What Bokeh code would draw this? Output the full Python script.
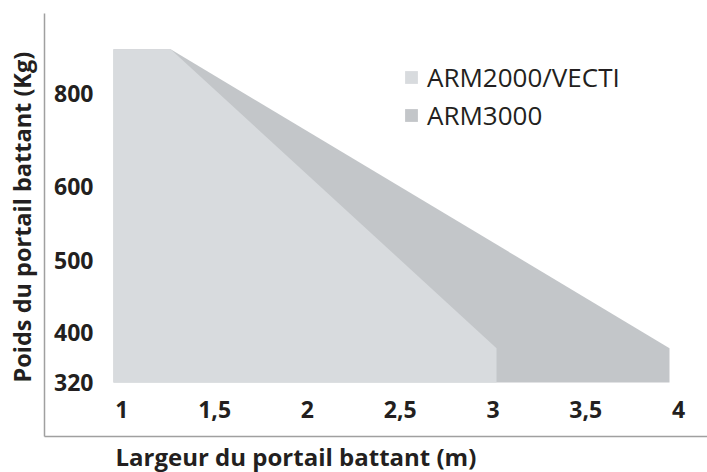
import numpy as np
from bokeh.plotting import figure
from bokeh.models import Range1d, FixedTicker, Label, Legend, LegendItem
from bokeh.embed import file_html
from bokeh.resources import INLINE

# ---------------- data ----------------
# gate width (m) / gate weight (kg) outlines of the two usage areas
arm2000_width = [0.955, 0.955, 1.263, 3.019, 3.019]
arm2000_weight = [320, 895, 895, 375, 320]
arm3000_width = [0.955, 0.955, 1.263, 3.951, 3.951]
arm3000_weight = [320, 895, 895, 375, 320]

series_names = ["ARM2000/VECTI", "ARM3000"]

x_ticks = [1, 1.5, 2, 2.5, 3, 3.5, 4]
x_tick_labels = ["1", "1,5", "2", "2,5", "3", "3,5", "4"]
y_ticks = [320, 400, 500, 600, 800]
y_tick_labels = ["320", "400", "500", "600", "800"]

# ---------------- layout of the (non linear) weight axis ----------------
y_tick_axis = [0, 50, 122, 196, 289]   # axis units of each weight tick


def warp(values):
    v = np.asarray(values, dtype=float)
    out = np.interp(v, y_ticks, y_tick_axis)
    lo = (y_tick_axis[1] - y_tick_axis[0]) / (y_ticks[1] - y_ticks[0])
    hi = (y_tick_axis[-1] - y_tick_axis[-2]) / (y_ticks[-1] - y_ticks[-2])
    out = np.where(v < y_ticks[0], y_tick_axis[0] + (v - y_ticks[0]) * lo, out)
    out = np.where(v > y_ticks[-1], y_tick_axis[-1] + (v - y_ticks[-1]) * hi, out)
    return out


LIGHT = "#d8dbde"
DARK = "#c3c6c9"
TEXT = "#231f20"
AXIS = "#a0a0a0"
FONT = "Open Sans"

X0, X1 = 0.3464, 4.1557          # visible x extent
Y0, Y1 = -90, 382                # visible y extent (axis units)
X_AXIS_AT = -54                  # where the bottom axis line sits
Y_AXIS_AT = 0.5835               # where the left axis line sits
Y_AXIS_TOP = 369

p = figure(width=707, height=472, output_backend="svg", toolbar_location=None,
           x_range=Range1d(X0, X1), y_range=Range1d(Y0, Y1),
           min_border_left=0, min_border_right=0, min_border_top=0,
           min_border_bottom=0)
p.grid.visible = False
p.outline_line_color = None
p.background_fill_color = "white"
p.border_fill_color = "white"

r3 = p.patch(arm3000_width, warp(arm3000_weight), fill_color=DARK, line_color=None)
r2 = p.patch(arm2000_width, warp(arm2000_weight), fill_color=LIGHT, line_color=None)

legend = Legend(items=[LegendItem(label=series_names[0], renderers=[r2]),
                       LegendItem(label=series_names[1], renderers=[r3])],
                location=(403, 339))
legend.border_line_color = None
legend.background_fill_alpha = 0
legend.padding = 0
legend.margin = 0
legend.spacing = 2
legend.glyph_width = 16
legend.glyph_height = 16
legend.label_standoff = 8
legend.label_text_font = FONT
legend.label_text_font_size = "26px"
legend.label_text_color = TEXT
p.add_layout(legend)

# x axis
xa = p.xaxis[0]
xa.fixed_location = X_AXIS_AT
xa.bounds = (Y_AXIS_AT, X1)
xa.ticker = FixedTicker(ticks=x_ticks)
xa.major_label_overrides = {float(t): l for t, l in zip(x_ticks, x_tick_labels)}
xa.major_label_standoff = -36
xa.major_tick_out = 0
xa.major_tick_in = 0
xa.minor_tick_out = 0
xa.minor_tick_in = 0
xa.major_label_text_font = FONT
xa.major_label_text_font_style = "bold"
xa.major_label_text_font_size = "23px"
xa.major_label_text_color = TEXT
xa.axis_line_color = AXIS
xa.axis_line_width = 1.5

# y axis
ya = p.yaxis[0]
ya.fixed_location = Y_AXIS_AT
ya.bounds = (X_AXIS_AT, Y_AXIS_TOP)
y_pos = [float(v) for v in warp(y_ticks)]
ya.ticker = FixedTicker(ticks=y_pos)
ya.major_label_overrides = {v: l for v, l in zip(y_pos, y_tick_labels)}
ya.major_label_standoff = -49
ya.major_tick_out = 0
ya.major_tick_in = 0
ya.minor_tick_out = 0
ya.minor_tick_in = 0
ya.major_label_text_font = FONT
ya.major_label_text_font_style = "bold"
ya.major_label_text_font_size = "23px"
ya.major_label_text_color = TEXT
ya.axis_line_color = AXIS
ya.axis_line_width = 1.5

# axis titles
x_title = Label(x=115, y=456, x_units="canvas", y_units="canvas",
                text="Largeur du portail battant (m)", text_font=FONT,
                text_font_style="bold", text_font_size="24px", text_color=TEXT,
                text_align="left", text_baseline="alphabetic")
y_title = Label(x=21, y=382, x_units="canvas", y_units="canvas", angle=np.pi / 2,
                text="Poids du portail battant (Kg)", text_font=FONT,
                text_font_style="bold", text_font_size="23.5px", text_color=TEXT,
                text_align="left", text_baseline="alphabetic")
p.add_layout(x_title)
p.add_layout(y_title)

open("out.html", "w").write(file_html(p, INLINE))
